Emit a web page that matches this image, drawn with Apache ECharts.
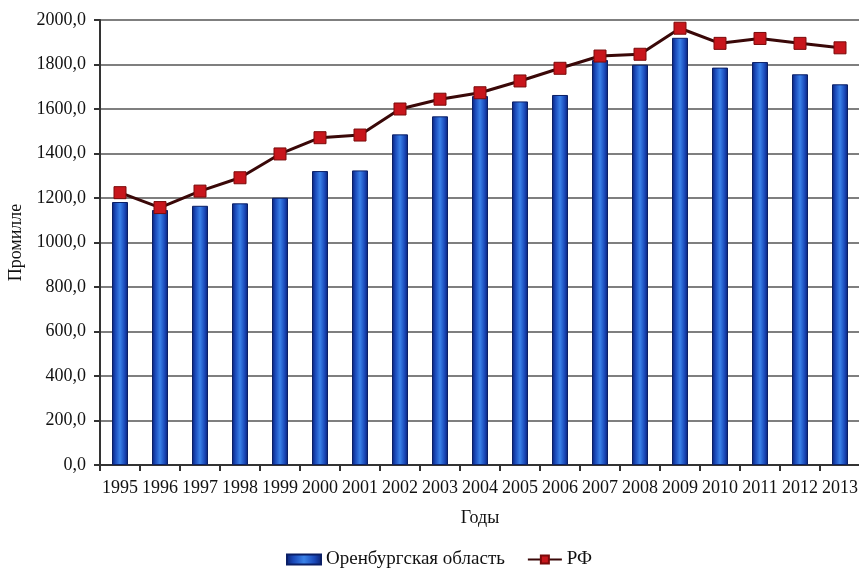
<!DOCTYPE html>
<html>
<head>
<meta charset="utf-8">
<script src="https://cdn.jsdelivr.net/npm/echarts@6/dist/echarts.min.js"></script>
<style>
  html, body { margin: 0; padding: 0; background: #fff; }
  #chart { width: 859px; height: 571px; }
</style>
</head>
<body>
<div id="chart"></div>
<script>
// годы
const years = ['1995', '1996', '1997', '1998', '1999', '2000', '2001', '2002', '2003', '2004',
  '2005', '2006', '2007', '2008', '2009', '2010', '2011', '2012', '2013'];
// Оренбургская область (столбики)
const orenburg = [1182, 1146, 1165, 1176, 1201, 1321, 1324, 1486, 1567, 1658,
  1634, 1663, 1820, 1799, 1920, 1786, 1811, 1756, 1711];
// РФ (линия)
const rf = [1224, 1157, 1231, 1291, 1398, 1471, 1483, 1600, 1644, 1673,
  1726, 1783, 1838, 1846, 1963, 1895, 1917, 1895, 1875];
const legendNames = ['Оренбургская область', 'РФ'];

const font = '"Liberation Serif", "DejaVu Serif", serif';
const chart = echarts.init(document.getElementById('chart'));

const barColor = new echarts.graphic.LinearGradient(0, 0, 1, 0, [
  { offset: 0, color: '#0a2070' },
  { offset: 0.2, color: '#1a48b8' },
  { offset: 0.5, color: '#3a82e8' },
  { offset: 0.8, color: '#1a48b8' },
  { offset: 1, color: '#0a2070' },
]);

const option = {
  animation: false,
  textStyle: { fontFamily: font },
  grid: {
    left: 100,
    right: -1,
    top: 20,
    bottom: 106,
    containLabel: false,
    outerBoundsMode: 'none',
  },
  legend: {
    bottom: -3,
    left: 281,
    itemWidth: 34,
    itemHeight: 10,
    itemGap: 22,
    textStyle: { fontFamily: font, fontSize: 19, color: '#111' },
    data: [
      { name: legendNames[0], icon: 'rect' },
      { name: legendNames[1] },
    ],
  },
  xAxis: {
    type: 'category',
    data: years,
    name: 'Годы',
    nameLocation: 'center',
    nameGap: 44,
    nameTextStyle: { fontFamily: font, fontSize: 18, color: '#111' },
    axisLine: { lineStyle: { color: '#333', width: 2 } },
    axisTick: { show: true, length: 6, lineStyle: { color: '#333', width: 2 } },
    axisLabel: { fontFamily: font, fontSize: 18, color: '#111', margin: 14, interval: 0, hideOverlap: false },
  },
  yAxis: {
    type: 'value',
    min: 0,
    max: 2000,
    interval: 200,
    name: 'Промилле',
    nameLocation: 'center',
    nameGap: 73,
    nameRotate: 90,
    nameTextStyle: { fontFamily: font, fontSize: 18, color: '#111' },
    axisLine: { show: true, lineStyle: { color: '#333', width: 2 } },
    axisTick: { show: true, length: 6, lineStyle: { color: '#333', width: 2 } },
    axisLabel: {
      fontFamily: font,
      fontSize: 18,
      color: '#111',
      margin: 14,
      formatter: (v) => v.toFixed(1).replace('.', ','),
    },
    splitLine: { lineStyle: { color: '#555', width: 1.5 } },
  },
  series: [
    {
      name: legendNames[0],
      type: 'bar',
      data: orenburg,
      barWidth: 16,
      itemStyle: {
        color: barColor,
        borderColor: '#0a1f66',
        borderWidth: 1,
      },
    },
    {
      name: legendNames[1],
      type: 'line',
      data: rf,
      symbol: 'rect',
      symbolSize: 12,
      lineStyle: { color: '#3a0808', width: 3 },
      itemStyle: { color: '#c8161c', borderColor: '#7a0a0a', borderWidth: 1 },
    },
  ],
};

chart.setOption(option, true);
</script>
</body>
</html>
